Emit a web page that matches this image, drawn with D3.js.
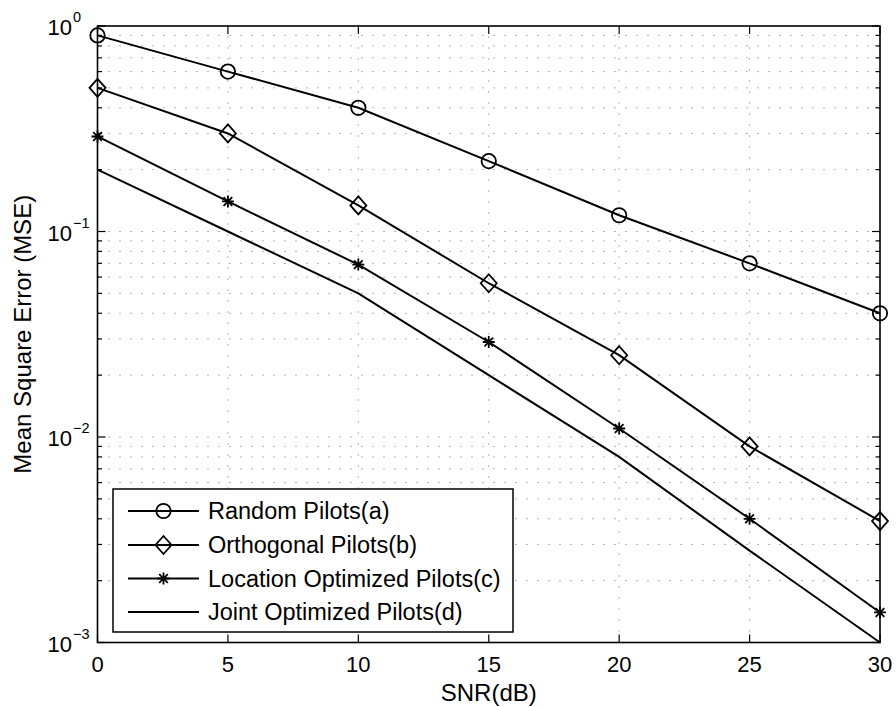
<!DOCTYPE html>
<html>
<head>
<meta charset="utf-8">
<script src="https://cdn.jsdelivr.net/npm/d3@7"></script>
<style>
html,body{margin:0;padding:0;background:#fff;}
svg{display:block;font-family:"Liberation Sans",Arial,Helvetica,sans-serif;}
</style>
</head>
<body>
<svg id="chart" width="896" height="707"></svg>
<script>
// ---- data ----
const snr = [0, 5, 10, 15, 20, 25, 30];
const randomPilots = [0.9, 0.6, 0.4, 0.22, 0.12, 0.07, 0.04];
const orthogonalPilots = [0.5, 0.3, 0.134, 0.056, 0.025, 0.009, 0.0039];
const locationPilots = [0.29, 0.14, 0.069, 0.029, 0.011, 0.004, 0.0014];
const jointPilots = [0.2, 0.1, 0.05, 0.02, 0.008, 0.0028, 0.001];
const seriesNames = ["Random Pilots(a)", "Orthogonal Pilots(b)", "Location Optimized Pilots(c)", "Joint Optimized Pilots(d)"];
const seriesMarkers = ["circle", "diamond", "star", "none"];
const xTicks = [0, 5, 10, 15, 20, 25, 30];
const yDecades = [-3, -2, -1, 0];

const svg = d3.select("#chart");
const L = 97.5, R = 880, T = 26, B = 642.5;
const x = d3.scaleLinear().domain([0, 30]).range([L, R]);
const y = d3.scaleLog().domain([1e-3, 1]).range([B, T]);

// ---- grid ----
const grid = svg.append("g").attr("stroke", "#666").attr("stroke-width", 1)
  .attr("stroke-dasharray", "1,10").attr("fill", "none");
xTicks.slice(1, -1).forEach(v => {
  grid.append("line").attr("x1", x(v)).attr("x2", x(v)).attr("y1", B).attr("y2", T);
});
const yGridVals = [];
for (let e = -3; e < 0; e++) for (let m = 1; m <= 9; m++) yGridVals.push(m * Math.pow(10, e));
yGridVals.slice(1).forEach(v => {
  grid.append("line").attr("x1", L).attr("x2", R).attr("y1", y(v)).attr("y2", y(v));
});

// ---- ticks ----
const ticks = svg.append("g").attr("stroke", "#000").attr("stroke-width", 1.2);
xTicks.forEach(v => {
  ticks.append("line").attr("x1", x(v)).attr("x2", x(v)).attr("y1", B).attr("y2", B - 8);
  ticks.append("line").attr("x1", x(v)).attr("x2", x(v)).attr("y1", T).attr("y2", T + 8);
});
yGridVals.concat([1]).forEach(v => {
  const major = Math.abs(Math.log10(v) - Math.round(Math.log10(v))) < 1e-9;
  const len = major ? 8 : 4.5;
  ticks.append("line").attr("x1", L).attr("x2", L + len).attr("y1", y(v)).attr("y2", y(v));
  ticks.append("line").attr("x1", R).attr("x2", R - len).attr("y1", y(v)).attr("y2", y(v));
});

// ---- frame ----
svg.append("rect").attr("x", L).attr("y", T).attr("width", R - L).attr("height", B - T)
  .attr("fill", "none").attr("stroke", "#000").attr("stroke-width", 1.6);

// ---- tick labels ----
xTicks.forEach(v => {
  svg.append("text").attr("x", x(v)).attr("y", 672).attr("text-anchor", "middle")
    .attr("font-size", 22).text(v);
});
yDecades.forEach(e => {
  svg.append("text").attr("x", 72).attr("y", y(Math.pow(10, e)) + 9)
    .attr("text-anchor", "end").attr("font-size", 22).text("10");
  svg.append("text").attr("x", 73).attr("y", y(Math.pow(10, e)) - 4)
    .attr("text-anchor", "start").attr("font-size", 14.5)
    .text(e === 0 ? "0" : "\u2212" + Math.abs(e));
});

// ---- axis labels ----
svg.append("text").attr("x", (L + R) / 2).attr("y", 701).attr("text-anchor", "middle")
  .attr("font-size", 24).text("SNR(dB)");
svg.append("text").attr("transform", `translate(31,${(T + B) / 2}) rotate(-90)`)
  .attr("text-anchor", "middle").attr("font-size", 24).text("Mean Square Error (MSE)");

// ---- markers ----
function drawMarker(g, type, cx, cy) {
  if (type === "circle") {
    g.append("circle").attr("cx", cx).attr("cy", cy).attr("r", 7.2)
      .attr("fill", "none").attr("stroke", "#000").attr("stroke-width", 1.8);
  } else if (type === "diamond") {
    g.append("path").attr("d", `M${cx},${cy - 9}L${cx + 8},${cy}L${cx},${cy + 9}L${cx - 8},${cy}Z`)
      .attr("fill", "none").attr("stroke", "#000").attr("stroke-width", 1.8);
  } else if (type === "star") {
    const s = 6, d = 4.3;
    g.append("path").attr("d",
      `M${cx - s},${cy}L${cx + s},${cy}M${cx},${cy - s}L${cx},${cy + s}` +
      `M${cx - d},${cy - d}L${cx + d},${cy + d}M${cx - d},${cy + d}L${cx + d},${cy - d}`)
      .attr("fill", "none").attr("stroke", "#000").attr("stroke-width", 1.8);
  }
}

// ---- series ----
const allSeries = [randomPilots, orthogonalPilots, locationPilots, jointPilots];
const line = d3.line().x(d => x(d[0])).y(d => y(d[1]));
const plot = svg.append("g");
allSeries.forEach((vals, i) => {
  const pts = snr.map((s, j) => [s, vals[j]]);
  plot.append("path").attr("d", line(pts)).attr("fill", "none")
    .attr("stroke", "#000").attr("stroke-width", 2);
  pts.forEach(p => drawMarker(plot, seriesMarkers[i], x(p[0]), y(p[1])));
});

// ---- legend ----
const lg = svg.append("g");
lg.append("rect").attr("x", 113).attr("y", 489).attr("width", 400).attr("height", 143)
  .attr("fill", "#fff").attr("stroke", "#000").attr("stroke-width", 1.5);
const rowsY = [511, 545, 578.5, 612];
seriesNames.forEach((name, i) => {
  lg.append("line").attr("x1", 128).attr("x2", 199).attr("y1", rowsY[i]).attr("y2", rowsY[i])
    .attr("stroke", "#000").attr("stroke-width", 2);
  drawMarker(lg, seriesMarkers[i], 163.5, rowsY[i]);
  lg.append("text").attr("x", 208).attr("y", rowsY[i] + 8).attr("font-size", 23.5).text(name);
});
</script>
</body>
</html>
